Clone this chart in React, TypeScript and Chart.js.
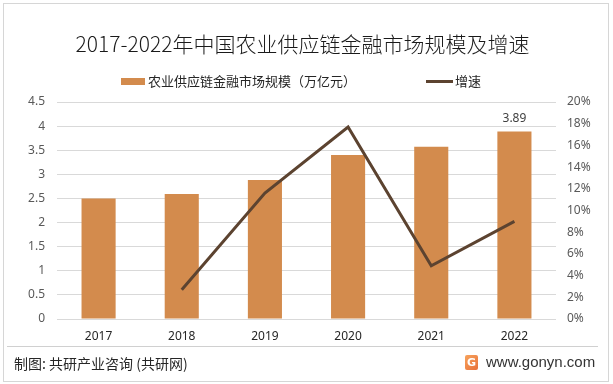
import React, { useEffect, useRef } from "react";
import { Chart, registerables } from "chart.js";

Chart.register(...registerables);

const years = ["2017", "2018", "2019", "2020", "2021", "2022"];
const marketSize = [2.5, 2.59, 2.88, 3.4, 3.57, 3.89];
const growthRate = [null, 2.7, 11.6, 17.7, 4.9, 9.0];
const leftTicks = [0, 0.5, 1, 1.5, 2, 2.5, 3, 3.5, 4, 4.5];
const rightTicks = [0, 2, 4, 6, 8, 10, 12, 14, 16, 18, 20];

const BAR_COLOR = "#D38B4D";
const LINE_COLOR = "#5C4330";
const CJK = '"Noto Sans CJK SC", "Noto Sans", sans-serif';

const lastLabelPlugin = {
  id: "lastLabel",
  afterDatasetsDraw(chart: any) {
    const meta = chart.getDatasetMeta(0);
    const i = marketSize.length - 1;
    const el = meta.data[i];
    if (!el) return;
    const ctx = chart.ctx;
    ctx.save();
    ctx.fillStyle = "#404040";
    ctx.font = '12px "Noto Sans", sans-serif';
    ctx.textAlign = "center";
    ctx.textBaseline = "bottom";
    ctx.fillText(marketSize[i].toFixed(2), el.x, el.y - 7);
    ctx.restore();
  },
};

export default function App() {
  const ref = useRef<HTMLCanvasElement>(null);
  useEffect(() => {
    if (!ref.current) return;
    const chart = new Chart(ref.current, {
      type: "bar",
      data: {
        labels: years,
        datasets: [
          {
            type: "bar",
            label: "农业供应链金融市场规模（万亿元）",
            data: marketSize,
            backgroundColor: BAR_COLOR,
            yAxisID: "y",
            categoryPercentage: 1,
            barPercentage: 0.41,
            order: 2,
          },
          {
            type: "line",
            label: "增速",
            data: growthRate as any,
            borderColor: LINE_COLOR,
            backgroundColor: LINE_COLOR,
            borderWidth: 3,
            pointRadius: 0,
            tension: 0,
            yAxisID: "y1",
            order: 1,
          },
        ],
      },
      options: {
        responsive: false,
        animation: false,
        devicePixelRatio: 1,
        layout: { padding: { top: 102, left: 0, right: 0, bottom: 0 } },
        plugins: {
          legend: { display: false },
          title: { display: false },
          tooltip: { enabled: false },
        },
        scales: {
          x: {
            grid: { display: false, drawTicks: false },
            border: { display: false },
            ticks: {
              color: "#262626",
              font: { size: 12, family: '"Noto Sans", sans-serif' },
              padding: 10,
            },
            afterFit: (s: any) => {
              s.height = 65;
            },
          },
          y: {
            position: "left",
            min: 0,
            max: 4.5,
            afterBuildTicks: (s: any) => {
              s.ticks = leftTicks.map((v) => ({ value: v }));
            },
            ticks: {
              color: "#595959",
              font: { size: 12, family: '"Noto Sans", sans-serif' },
              padding: 12,
              callback: (v: any) => String(v),
            },
            grid: { color: "#d9d9d9", drawTicks: false, lineWidth: 1 },
            border: { display: false },
            afterFit: (s: any) => {
              s.width = 57;
            },
          },
          y1: {
            position: "right",
            min: 0,
            max: 20,
            afterBuildTicks: (s: any) => {
              s.ticks = rightTicks.map((v) => ({ value: v }));
            },
            ticks: {
              color: "#595959",
              font: { size: 12, family: '"Noto Sans", sans-serif' },
              padding: 11,
              callback: (v: any) => v + "%",
            },
            grid: { display: false, drawTicks: false },
            border: { display: false },
            afterFit: (s: any) => {
              s.width = 57;
            },
          },
        },
      },
      plugins: [lastLabelPlugin],
    });
    return () => chart.destroy();
  }, []);

  return (
    <div
      style={{
        position: "fixed",
        left: 0,
        top: 0,
        width: 613,
        height: 384,
        background: "#fff",
        overflow: "hidden",
      }}
    >
      <div
        style={{
          position: "absolute",
          left: 3,
          top: 3,
          width: 604,
          height: 377,
          border: "1px solid #d6d6d6",
        }}
      />
      <canvas
        ref={ref}
        width={613}
        height={384}
        style={{ position: "absolute", left: 0, top: 0 }}
      />
      <div
        style={{
          position: "absolute",
          left: 0,
          width: 605,
          top: 30,
          textAlign: "center",
          fontFamily: CJK,
          fontSize: 21,
          fontWeight: 300,
          lineHeight: "26px",
          color: "#1a1a1a",
          whiteSpace: "nowrap",
        }}
      >
        2017-2022年中国农业供应链金融市场规模及增速
      </div>
      <div
        style={{
          position: "absolute",
          left: 121,
          top: 78,
          width: 24,
          height: 7,
          background: BAR_COLOR,
        }}
      />
      <div
        style={{
          position: "absolute",
          left: 148,
          top: 72,
          fontFamily: CJK,
          fontSize: 13,
          lineHeight: "18px",
          color: "#262626",
          whiteSpace: "nowrap",
        }}
      >
        农业供应链金融市场规模（万亿元）
      </div>
      <div
        style={{
          position: "absolute",
          left: 426,
          top: 80,
          width: 27,
          height: 3,
          background: LINE_COLOR,
        }}
      />
      <div
        style={{
          position: "absolute",
          left: 455,
          top: 72,
          fontFamily: CJK,
          fontSize: 13,
          lineHeight: "18px",
          color: "#262626",
          whiteSpace: "nowrap",
        }}
      >
        增速
      </div>
      <div
        style={{
          position: "absolute",
          left: 7,
          top: 346,
          width: 591,
          height: 1,
          background: "#d0d0d0",
        }}
      />
      <div
        style={{
          position: "absolute",
          left: 14,
          top: 354,
          fontFamily: CJK,
          fontSize: 14,
          fontWeight: 400,
          lineHeight: "19px",
          color: "#262626",
          whiteSpace: "nowrap",
        }}
      >
        制图: 共研产业咨询 (共研网)
      </div>
      <div
        style={{
          position: "absolute",
          left: 465,
          top: 355,
          width: 13,
          height: 15,
          borderRadius: 2,
          background: "linear-gradient(135deg, #f7a35c, #e8703a)",
          color: "#fff",
          fontFamily: '"DejaVu Sans", sans-serif',
          fontWeight: "bold",
          fontSize: 11,
          lineHeight: "15px",
          textAlign: "center",
        }}
      >
        G
      </div>
      <div
        style={{
          position: "absolute",
          left: 486,
          top: 352,
          fontFamily: '"Liberation Sans", sans-serif',
          fontSize: 15,
          lineHeight: "20px",
          color: "#333",
          whiteSpace: "nowrap",
        }}
      >
        www.gonyn.com
      </div>
    </div>
  );
}
